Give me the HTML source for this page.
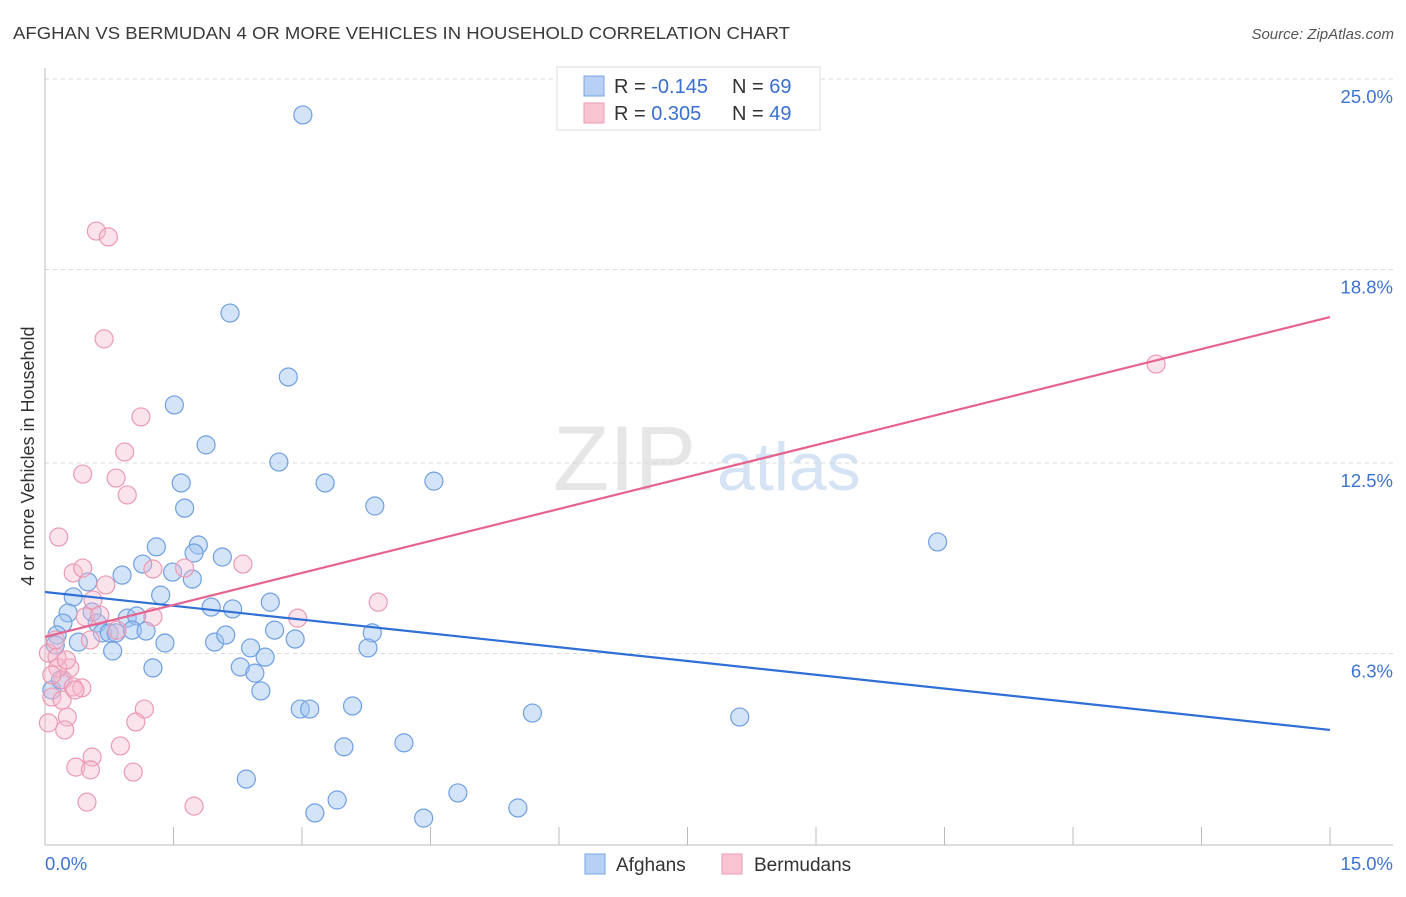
<!DOCTYPE html>
<html><head><meta charset="utf-8"><style>
body{margin:0;background:#fff;font-family:"Liberation Sans",sans-serif}
svg text{font-family:"Liberation Sans",sans-serif}
</style></head><body>
<svg id="chart" width="1406" height="892" xmlns="http://www.w3.org/2000/svg">
<text x="13" y="39" font-size="17.5" fill="#3a3a3a" textLength="777" lengthAdjust="spacingAndGlyphs">AFGHAN VS BERMUDAN 4 OR MORE VEHICLES IN HOUSEHOLD CORRELATION CHART</text>
<text x="1394" y="39" font-size="15" fill="#555" font-style="italic" text-anchor="end">Source: ZipAtlas.com</text>
<g>
<text x="553" y="490" font-size="92" fill="#e6e6e6" font-family="Liberation Serif,serif">ZIP</text>
<text x="717" y="490" font-size="68" fill="#d5e3f4">atlas</text>
</g>
<g id="grid"></g>
<g id="axes"></g>
<g id="marks"></g>
<text transform="translate(34,456) rotate(-90)" font-size="18" fill="#333" text-anchor="middle">4 or more Vehicles in Household</text>
<g>
<rect x="557" y="67" width="263" height="63" fill="#fff" stroke="#ddd"/>
<rect x="584" y="76" width="20" height="20" fill="#b8d0f4" stroke="#7aa5e4"/>
<rect x="584" y="103" width="20" height="20" fill="#f8c4d2" stroke="#ec9bb4"/>
<text x="614" y="93" font-size="20" fill="#333">R = <tspan fill="#3a6fd0">-0.145</tspan><tspan x="732">N = </tspan><tspan fill="#3a6fd0">69</tspan></text>
<text x="614" y="120" font-size="20" fill="#333">R = <tspan fill="#3a6fd0"> 0.305</tspan><tspan x="732">N = </tspan><tspan fill="#3a6fd0">49</tspan></text>
</g>
<g>
<rect x="585" y="854" width="20" height="20" fill="#b8d0f4" stroke="#7aa5e4"/>
<text x="616" y="871" font-size="19" fill="#333">Afghans</text>
<rect x="722" y="854" width="20" height="20" fill="#f8c4d2" stroke="#ec9bb4"/>
<text x="754" y="871" font-size="19" fill="#333">Bermudans</text>
</g>
</svg>
<script>
const yTicks=[6.3,12.5,18.8,25.0];
const yTickLabels=["6.3%","12.5%","18.8%","25.0%"];
const xTickLabels=["0.0%","15.0%"];
const afghanX=[3.01,2.16,2.84,1.51,1.88,2.73,1.59,3.27,4.54,1.63,3.85,10.42,1.30,1.79,1.74,2.07,1.14,1.49,0.90,1.72,0.50,0.33,1.35,0.27,0.21,0.14,0.12,0.55,0.61,0.67,0.75,0.83,0.96,1.07,1.02,1.18,0.39,0.79,1.40,1.94,2.19,2.63,2.68,1.98,2.11,2.92,1.26,2.28,2.40,2.57,2.45,2.52,2.98,3.09,2.35,3.15,3.82,3.77,3.59,3.49,4.19,3.41,4.42,4.82,5.52,5.69,8.11,0.08,0.18];
const afghanY=[23.83,17.38,15.30,14.39,13.09,12.53,11.85,11.85,11.91,11.03,11.10,9.93,9.77,9.83,9.57,9.44,9.21,8.95,8.85,8.72,8.63,8.14,8.20,7.62,7.29,6.90,6.58,7.65,7.29,6.97,6.97,6.97,7.45,7.52,7.06,7.03,6.67,6.38,6.64,7.81,7.75,7.97,7.06,6.67,6.90,6.77,5.83,5.86,6.48,6.18,5.66,5.08,4.49,4.49,2.21,1.11,6.97,6.48,4.59,3.26,3.39,1.53,0.94,1.76,1.27,4.36,4.23,5.11,5.44];
const bermudaX=[0.16,0.33,0.44,0.71,0.56,0.47,1.26,1.63,2.31,1.26,2.95,0.84,0.04,0.14,0.29,0.21,0.33,0.43,0.08,0.04,0.26,0.23,1.16,1.06,0.88,0.55,0.36,0.53,1.03,0.49,1.74,0.60,0.74,0.69,1.12,0.93,0.44,0.83,0.96,12.97,3.89,0.15,0.12,0.20,0.53,0.64,0.25,0.35,0.08];
const bermudaY=[10.09,8.92,9.08,8.53,8.04,7.49,9.05,9.08,9.21,7.49,7.45,7.06,6.31,6.18,5.83,5.44,5.21,5.18,4.88,4.04,4.23,3.81,4.49,4.07,3.29,2.93,2.60,2.51,2.44,1.46,1.33,20.05,19.86,16.54,14.00,12.86,12.14,12.01,11.46,15.72,7.97,5.83,6.74,4.78,6.74,7.55,6.09,5.11,5.60];
const afghanTrend=[8.30,3.81];
const bermudaTrend=[6.84,17.25];
const NS="http://www.w3.org/2000/svg";
const X0=45,X1=1330,Y0=847,YTOP=79;
function sx(v){return X0+(v/15)*(X1-X0);}
function sy(v){return Y0-(v/25)*(Y0-YTOP);}
function mk(tag,attrs,parent){const e=document.createElementNS(NS,tag);for(const k in attrs)e.setAttribute(k,attrs[k]);parent.appendChild(e);return e;}
const grid=document.getElementById('grid'),axes=document.getElementById('axes'),marks=document.getElementById('marks');
yTicks.forEach((t,i)=>{
 const l=mk('line',{x1:45,x2:1393,y1:sy(t),y2:sy(t),stroke:'#d8d8d8','stroke-dasharray':'4,4'},grid);
 
 
 const tx=mk('text',{x:1393,y:sy(t)+24,'font-size':18.5,fill:'#3d73d0','text-anchor':'end'},axes);
 tx.textContent=yTickLabels[i];
 
 
});
const ya=mk('line',{x1:45,x2:45,y1:68,y2:845,stroke:'#bbb'},axes);


const xa=mk('line',{x1:45,x2:1393,y1:845,y2:845,stroke:'#bbb'},axes);


for(let i=0;i<=10;i++){
 const t=mk('line',{x1:sx(i*1.5),x2:sx(i*1.5),y1:827,y2:845,stroke:'#bbb'},axes);
 
 
}
const xl0=mk('text',{x:45,y:870,'font-size':18.5,fill:'#3d73d0'},axes);xl0.textContent=xTickLabels[0];


const xl1=mk('text',{x:1393,y:870,'font-size':18.5,fill:'#3d73d0','text-anchor':'end'},axes);xl1.textContent=xTickLabels[1];


afghanX.forEach((x,i)=>{
 const c=mk('circle',{cx:sx(x),cy:sy(afghanY[i]),r:9,fill:'rgba(160,195,240,0.45)',stroke:'#6f9fe2','stroke-width':1.2},marks);
 
 
});
bermudaX.forEach((x,i)=>{
 const c=mk('circle',{cx:sx(x),cy:sy(bermudaY[i]),r:9,fill:'rgba(246,185,205,0.4)',stroke:'#eb9ab3','stroke-width':1.2},marks);
 
 
});
const la=mk('line',{x1:sx(0),y1:sy(afghanTrend[0]),x2:sx(15),y2:sy(afghanTrend[1]),stroke:'#2f6fd6','stroke-width':2.2},marks);


const lb=mk('line',{x1:sx(0),y1:sy(bermudaTrend[0]),x2:sx(15),y2:sy(bermudaTrend[1]),stroke:'#e5638e','stroke-width':2.2},marks);


</script>
</body></html>
